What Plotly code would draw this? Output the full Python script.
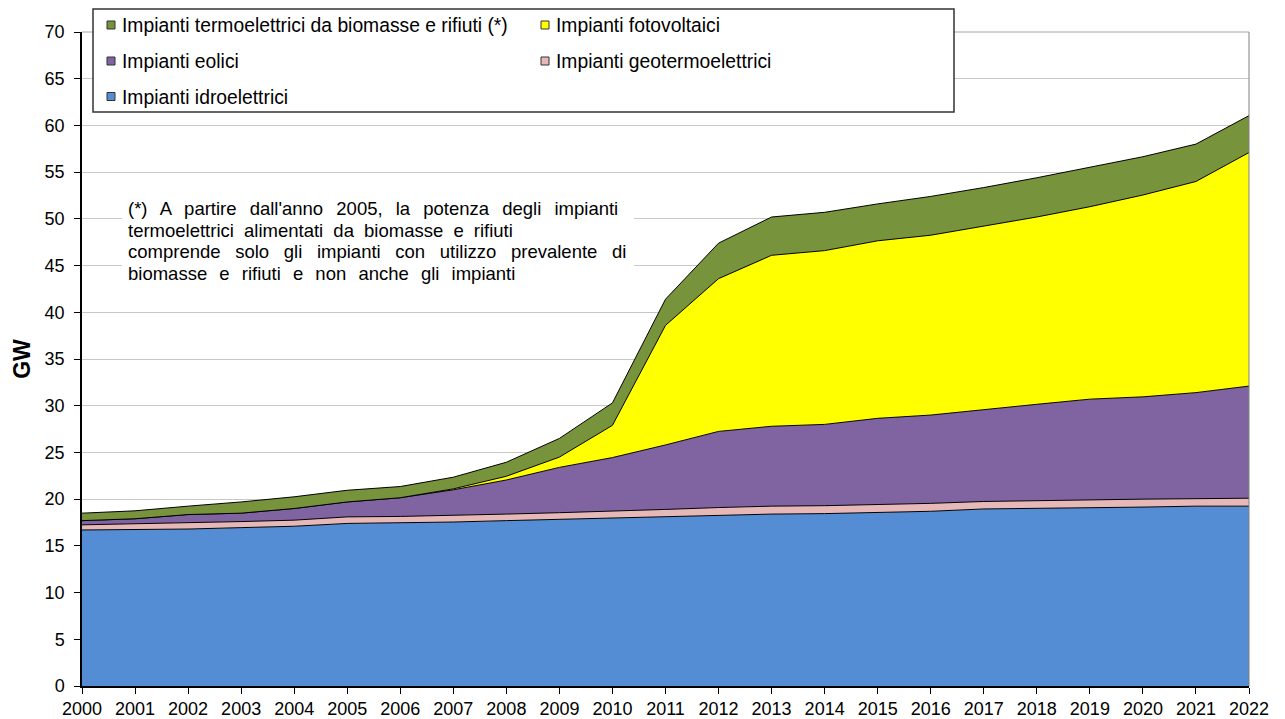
import plotly.graph_objects as go

# data (GW)
anni = list(range(2000, 2023))

idroelettrici = [16.7, 16.75, 16.8, 16.95, 17.1, 17.4, 17.45, 17.55, 17.7, 17.85, 17.95, 18.1,
                 18.25, 18.4, 18.45, 18.55, 18.7, 18.95, 19.0, 19.05, 19.15, 19.25, 19.25]
geotermoelettrici = [0.55, 0.6, 0.65, 0.65, 0.65, 0.7, 0.7, 0.7, 0.7, 0.7, 0.75, 0.8,
                     0.85, 0.85, 0.85, 0.85, 0.85, 0.8, 0.85, 0.85, 0.85, 0.8, 0.85]
eolici = [0.45, 0.55, 0.9, 0.9, 1.25, 1.6, 2.0, 2.75, 3.65, 4.85, 5.75, 6.9,
          8.15, 8.55, 8.7, 9.25, 9.45, 9.85, 10.3, 10.8, 10.95, 11.35, 12.0]
fotovoltaici = [0, 0, 0, 0, 0, 0, 0, 0.1, 0.4, 1.1, 3.45, 12.8,
                16.35, 18.3, 18.6, 19.0, 19.25, 19.6, 20.05, 20.6, 21.6, 22.6, 25.0]
biomasse = [0.8, 0.85, 0.9, 1.2, 1.25, 1.25, 1.2, 1.25, 1.5, 2.0, 2.4, 2.8,
            3.8, 4.1, 4.1, 3.95, 4.15, 4.15, 4.2, 4.2, 4.1, 4.0, 3.95]

nomi = ["Impianti idroelettrici", "Impianti geotermoelettrici", "Impianti eolici",
        "Impianti fotovoltaici", "Impianti termoelettrici da biomasse e rifiuti (*)"]
serie = [idroelettrici, geotermoelettrici, eolici, fotovoltaici, biomasse]
colori = ["#548DD4", "#E6B9B8", "#8064A2", "#FFFF00", "#77933C"]

nota = ["(*) A partire dall'anno 2005, la potenza degli impianti",
        "termoelettrici alimentati da biomasse e rifiuti",
        "comprende solo gli impianti con utilizzo prevalente di",
        "biomasse e rifiuti e non anche gli impianti"]

FONT = "Arial, Liberation Sans, sans-serif"
W, H = 1285, 719
ML, MR, MT, MB = 82, 36, 32, 33
PW, PH = W - ML - MR, H - MT - MB


# window pixel -> paper coords
def px(x):
    return (x - ML) / PW


def py(y):
    return (H - MB - y) / PH


fig = go.Figure()
for nome, valori, colore in zip(nomi, serie, colori):
    fig.add_trace(go.Scatter(
        x=anni, y=valori, name=nome, mode="lines", stackgroup="uno",
        line=dict(color="black", width=1), fillcolor=colore, showlegend=False
    ))

shapes = []
annotations = []

# frame top / right
shapes.append(dict(type="line", xref="paper", yref="paper", x0=0, x1=1, y0=1, y1=1,
                   line=dict(color="#a6a6a6", width=1)))
shapes.append(dict(type="line", xref="paper", yref="paper", x0=1, x1=1, y0=0, y1=1,
                   line=dict(color="#808080", width=1)))

# legend box, drawn by hand to keep the Excel-like layout
shapes.append(dict(type="rect", xref="paper", yref="paper", layer="above",
                   x0=px(93), x1=px(954), y0=py(112), y1=py(9),
                   fillcolor="white", line=dict(color="#333333", width=1.5)))
ordine = [4, 3, 2, 1, 0]
colonne = [111, 545]
righe = [25, 61, 96.5]
for k, i in enumerate(ordine):
    cx = colonne[k % 2]
    cy = righe[k // 2]
    shapes.append(dict(type="rect", xref="paper", yref="paper", layer="above",
                       x0=px(cx - 4), x1=px(cx + 4), y0=py(cy + 4), y1=py(cy - 4),
                       fillcolor=colori[i], line=dict(color="#333333", width=1)))
    annotations.append(dict(xref="paper", yref="paper", x=px(cx + 9), y=py(cy + 0.5),
                            xanchor="left", yanchor="middle", showarrow=False,
                            text=nomi[i], font=dict(family=FONT, size=19.3, color="black")))

# note box (white patch over the grid), one annotation per line
shapes.append(dict(type="rect", xref="paper", yref="paper", layer="above",
                   x0=px(122), x1=px(634), y0=py(292), y1=py(196),
                   fillcolor="white", line=dict(width=0)))
spaziatura = [8, 5, 9.5, 7]
for j, riga in enumerate(nota):
    annotations.append(dict(
        xref="paper", yref="paper", x=px(126), y=py(208.5 + 21.7 * j),
        xanchor="left", yanchor="middle", align="left", showarrow=False,
        text=f'<span style="word-spacing:{spaziatura[j]}px">{riga}</span>',
        font=dict(family=FONT, size=18.5, color="black")))

fig.update_layout(
    width=W, height=H, autosize=False,
    margin=dict(l=ML, r=MR, t=MT, b=MB),
    paper_bgcolor="white", plot_bgcolor="white",
    font=dict(family=FONT, size=18, color="black"),
    shapes=shapes, annotations=annotations,
    showlegend=False,
)
fig.update_xaxes(
    range=[2000, 2022], tickvals=anni, ticks="outside", ticklen=6,
    tickcolor="black", showline=True, linecolor="black", linewidth=1.5,
    showgrid=False, zeroline=False, tickfont=dict(size=18), ticklabelstandoff=0,
    automargin=False,
)
fig.update_yaxes(
    range=[0, 70], dtick=5, ticks="outside", ticklen=6, tickcolor="black",
    showline=True, linecolor="black", linewidth=1.5, ticklabelstandoff=6,
    showgrid=True, gridcolor="#c8c8c8", gridwidth=1.2, zeroline=False,
    tickfont=dict(size=18), automargin=False,
    title=dict(text="<b>GW</b>", font=dict(size=23), standoff=8),
)

# the default page keeps an 8px body margin; drop it so the figure fills the window
fig.write_html("out.html", config={"displayModeBar": False},
               post_script="document.body.style.margin='0';")
